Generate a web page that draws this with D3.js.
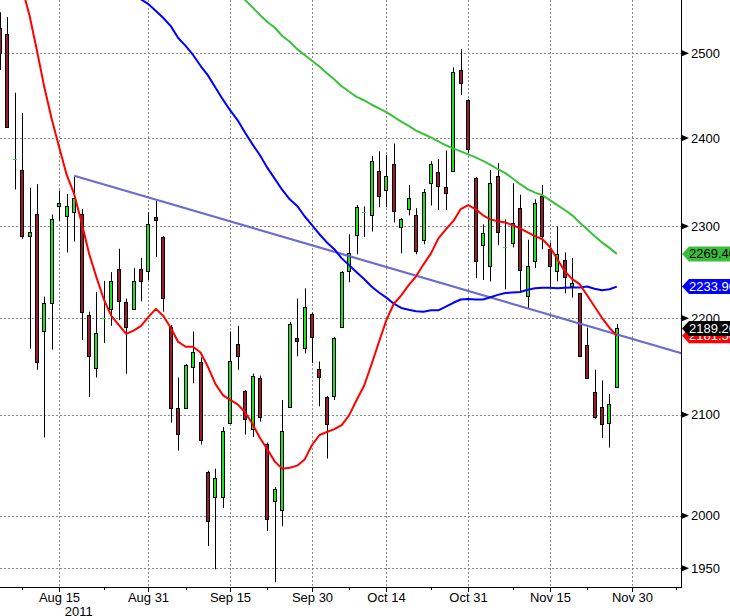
<!DOCTYPE html>
<html><head><meta charset="utf-8">
<script src="https://cdn.jsdelivr.net/npm/d3@7/dist/d3.min.js"></script>
<style>html,body{margin:0;padding:0;background:#fff;} svg{display:block;font-family:"Liberation Sans",Arial,sans-serif;}</style>
</head><body><svg id="c" width="730" height="616"></svg>
<script>
// ---- data (daily candles, weekdays from 2011-08-03 to 2011-11-28) ----
const startDate = "2011-08-03", endDate = "2011-11-28";
const open = [2531,2523,2374,2363,2289,2314,2186,2216,2322,2311,
  2315.5,2313,2203.5,2148,2198.8,2210,2253,2217,2210,2253,
  2250.5,2310,2288,2191,2107,2107,2149,2154.5,2043,2018,
  2018,2092,2173,2124,2085.5,2138,2071,2014.5,2005.5,2107.5,
  2179.5,2169,2204.5,2147,2118,2119,2191,2250.5,2290,2315,
  2312,2362,2340,2370,2299.5,2319,2312,2284.5,2348,2361,
  2344,2362,2480,2444,2354,2279,2256,2356,2276.3,2281,
  2320,2224,2261.5,2333.5,2274.5,2250.5,2262.5,2234,2226.5,2172,
  2123,2107.5,2091.5,2128.5];
const high = [2550,2544,2453,2429,2343,2347,2223,2313,2340,2336,
  2356,2319,2207,2228,2240,2249.5,2275,2221,2254,2265,
  2315.5,2328,2289,2193,2138,2152,2186,2159,2044,2046,
  2087.5,2186,2192,2125,2142,2140,2072,2028,2115,2196,
  2221,2232,2206,2154.5,2119,2180.5,2250.5,2291,2323.5,2322,
  2379,2384.5,2380,2393.5,2309,2346,2320,2341.5,2373,2375.5,
  2385.5,2483,2505,2445,2355,2302,2363,2371,2307.5,2348,
  2335,2285,2330,2346,2282,2299.5,2271,2265,2227,2190,
  2146,2135,2121,2194];
const low = [2480,2412,2341,2286,2168,2146,2077,2167,2306,2271,
  2283,2177,2118,2138,2174,2192,2198,2142,2209,2218,
  2241,2266,2207,2092,2064,2106,2132,2070,1971,1949,
  2007.5,2091,2146,2080,2077.5,2093,1985.5,1937,1990,2107,
  2160,2163,2153,2108.5,2056,2115,2190,2238.5,2269,2288,
  2294,2321,2321,2304,2270,2312,2269,2280,2323,2318,
  2318,2361,2450,2383,2243,2241,2239.5,2279,2231,2276.5,
  2228.5,2211,2254,2274.5,2232,2239.5,2226.5,2222,2159.5,2137.5,
  2096,2076.5,2067,2128];
const close = [2500,2413,2375.5,2289,2294,2154.5,2216,2308,2326,2323,
  2331,2207,2160,2184,2199.8,2240,2218,2191,2240,2240,
  2302,2306.5,2222,2107,2081,2151,2164,2075,1995,2037,
  2083.5,2155.5,2160,2096,2140,2098,1997,2026,2083.5,2194,
  2176.5,2212,2180.5,2139,2091,2179.5,2249.5,2270,2321.5,2316,
  2373,2333.5,2356,2316.5,2307.5,2331,2272.5,2338,2370,2345,
  2337,2477,2464,2387,2261.5,2292,2348,2293,2277.3,2303,
  2251.5,2256,2325.5,2289,2256,2269,2244,2237.5,2160.5,2138,
  2097.5,2090.5,2110.5,2189.2];
// moving averages
const maRed = [null,null,null,2580,2546,2503,2459,2421.5,2389,2357.5,
  2336,2304,2270,2244,2220,2202.5,2193,2183.5,2187,2192,
  2201.5,2210,2202.5,2190,2175,2170,2170,2164,2149,2131.5,
  2120,2115,2110.5,2102.5,2090.5,2076.5,2065,2053,2046,2047,
  2049,2055,2069.5,2079.5,2082.5,2085.5,2089.5,2099.5,2115,2129.5,
  2151.5,2175,2198,2215.5,2224.5,2235.5,2245,2258,2270,2286.5,
  2296.5,2305.5,2319,2323.5,2319,2312,2307.5,2305.5,2304,2301,
  2297.5,2293,2289,2285.5,2277,2263.5,2250.5,2242,2236.5,2224.5,
  2212.5,2200.5,2190,2181.5];
const maBlue = [null,null,null,null,null,null,null,null,null,null,
  null,null,null,null,null,null,null,null,2574,2566,
  2560,2551.5,2543,2533,2518.5,2509,2498,2485,2473.5,2459,
  2445,2432,2420.5,2406,2392.5,2380,2365.5,2353,2340.5,2330,
  2322.5,2311,2301,2291,2282,2274.5,2264.5,2257,2249.5,2242,
  2234,2227.5,2222,2215.5,2211,2209,2207.5,2207,2208.5,2208.5,
  2212.5,2216.5,2220,2220.5,2220,2220,2222.5,2225,2227,2227.5,
  2228,2230.5,2232,2232.5,2232.5,2232,2232.5,2233,2233,2234,
  2231.5,2230,2231,2233.9];
const maGreen = [null,null,null,null,null,null,null,null,null,null,
  null,null,null,null,null,null,null,null,null,null,
  null,null,null,null,null,null,null,null,null,null,
  null,null,2573.5,2565,2556,2546.5,2538,2531,2521,2514,
  2505,2498,2491,2484,2476,2468.5,2460.5,2454,2448,2444,
  2439,2434.5,2430,2424.5,2419,2414,2408.5,2404.5,2400.5,2396,
  2391.5,2388,2384.5,2381,2377.5,2373.5,2369,2364,2359.5,2353.5,
  2347,2341.5,2337.5,2334.5,2329,2323.5,2318,2312,2304,2296.5,
  2289,2282,2276,2269.4];
const trendDates = ["2011-08-17","2011-12-09"];
const trendValues = [2356.6, 2162.5];
const xTickDates = ["2011-08-15","2011-08-31","2011-09-15","2011-09-30","2011-10-14","2011-10-31","2011-11-15","2011-11-30"];
const xTickLabels = ["Aug 15","Aug 31","Sep 15","Sep 30","Oct 14","Oct 31","Nov 15","Nov 30"];
const xMinorDates = ["2011-08-08","2011-08-23","2011-09-07","2011-09-22","2011-10-07","2011-10-24","2011-11-08","2011-11-22","2011-12-08"];
const yearLabel = "2011";
const yTicks = [1950,2000,2100,2200,2300,2400,2500];
const tagLabels = ["2269.40","2233.90","2181.50","2189.20"];
const tagValues = [2269.4, 2233.9, 2181.5, 2189.2];
const tagFills = ["#3cbc3c","#0000ff","#ff0000","#000000"];
const tagText = ["#000","#fff","#fff","#fff"];

// ---- layout ----
const plotR = 681, plotB = 587;
const parse = d3.utcParse("%Y-%m-%d");
const isWeekday = d => d.getUTCDay() !== 0 && d.getUTCDay() !== 6;
const t0 = parse(startDate);
const dates = d3.utcDay.range(t0, d3.utcDay.offset(parse(endDate), 1)).filter(isWeekday);
const wIndex = s => d3.utcDay.range(t0, parse(s)).filter(isWeekday).length;

const x = d3.scaleLinear().domain([0, 85]).range([-0.2, 631.7]);
const y = d3.scaleLog().domain([1950, 2500]).range([568.3, 53.3]);

const svg = d3.select("#c");
svg.append("rect").attr("width", 730).attr("height", 616).attr("fill", "#fff");
svg.append("clipPath").attr("id", "clip").append("rect").attr("x", 0).attr("y", 0).attr("width", plotR).attr("height", plotB);

// grid
const grid = svg.append("g").attr("stroke", "#8a8a8a").attr("stroke-width", 1).attr("stroke-dasharray", "2,2");
yTicks.forEach(v => {
  const yy = Math.round(y(v)) + 0.5;
  grid.append("line").attr("x1", 0).attr("x2", plotR).attr("y1", yy).attr("y2", yy);
});
xTickDates.forEach(s => {
  const xx = Math.round(x(wIndex(s))) + 0.5;
  grid.append("line").attr("x1", xx).attr("x2", xx).attr("y1", 0).attr("y2", plotB);
});

const plot = svg.append("g").attr("clip-path", "url(#clip)");

// candles
const UP = "#1de41d", DOWN = "#9d1a2d";
dates.forEach((d, i) => {
  const cx = Math.round(x(i));
  const o = open[i], c = close[i], h = high[i], l = low[i];
  plot.append("line").attr("x1", cx + 0.5).attr("x2", cx + 0.5)
    .attr("y1", y(h)).attr("y2", y(l)).attr("stroke", "#000").attr("stroke-width", 1);
  const yo = y(o), yc = y(c);
  if (Math.abs(yo - yc) < 1.6) {
    plot.append("rect").attr("x", cx - 2).attr("y", Math.round(yc)).attr("width", 4).attr("height", 1)
      .attr("fill", c >= o ? UP : DOWN);
  } else {
    const top = Math.round(Math.min(yo, yc)) + 0.5, bot = Math.round(Math.max(yo, yc)) + 0.5;
    plot.append("rect").attr("x", cx - 1.5).attr("y", top).attr("width", 3).attr("height", bot - top)
      .attr("fill", c >= o ? UP : DOWN).attr("stroke", "#000").attr("stroke-width", 1);
  }
});

// trendline
const tp = trendDates.map((s, k) => [x(wIndex(s)), y(trendValues[k])]);
plot.append("line").attr("x1", tp[0][0]).attr("y1", tp[0][1]).attr("x2", tp[1][0]).attr("y2", tp[1][1])
  .attr("stroke", "#6464cc").attr("stroke-width", 2.2).attr("stroke-opacity", 0.95);

// moving averages
const line = d3.line().defined(d => d != null).x((d, i) => x(i)).y(d => y(d));
[[maGreen, "#3cc03c"], [maBlue, "#0000ff"], [maRed, "#ff0000"]].forEach(([arr, col]) => {
  plot.append("path").attr("d", line(arr)).attr("fill", "none").attr("stroke", col)
    .attr("stroke-width", 2).attr("stroke-linejoin", "round");
});

// axes lines
svg.append("line").attr("x1", plotR + 0.5).attr("x2", plotR + 0.5).attr("y1", 0).attr("y2", plotB + 1).attr("stroke", "#000");
svg.append("line").attr("x1", 0).attr("x2", plotR + 1).attr("y1", plotB + 0.5).attr("y2", plotB + 0.5).attr("stroke", "#000");

// x ticks and labels
xTickDates.forEach((s, k) => {
  const xx = Math.round(x(wIndex(s))) + 0.5;
  svg.append("line").attr("x1", xx).attr("x2", xx).attr("y1", plotB).attr("y2", plotB + 5).attr("stroke", "#000");
  svg.append("text").attr("x", xx).attr("y", 602).attr("text-anchor", "middle")
    .attr("font-size", 13).attr("fill", "#000").text(xTickLabels[k]);
});
xMinorDates.forEach(s => {
  const xx = Math.round(x(wIndex(s))) + 0.5;
  if (xx > plotR) return;
  svg.append("line").attr("x1", xx).attr("x2", xx).attr("y1", plotB).attr("y2", plotB + 3).attr("stroke", "#000");
});
svg.append("text").attr("x", x(wIndex(xTickDates[0])) + 19.5).attr("y", 616).attr("text-anchor", "middle")
  .attr("font-size", 13).attr("fill", "#000").text(yearLabel);

// y ticks and labels
yTicks.forEach(v => {
  const yy = y(v);
  svg.append("path").attr("d", `M${plotR + 1},${yy - 3}L${plotR + 8},${yy}L${plotR + 1},${yy + 3}Z`).attr("fill", "#000");
  svg.append("text").attr("x", plotR + 10).attr("y", yy + 4.6).attr("font-size", 13).attr("fill", "#000").text(d3.format("d")(v));
});

// value tags
tagValues.forEach((v, k) => {
  const yc = y(v);
  svg.append("path").attr("d", `M${plotR + 1},${yc}L${plotR + 8},${yc - 7.5}L740,${yc - 7.5}L740,${yc + 7.5}L${plotR + 8},${yc + 7.5}Z`)
    .attr("fill", tagFills[k]);
  svg.append("text").attr("x", plotR + 8).attr("y", yc + 4.6).attr("font-size", 13)
    .attr("fill", tagText[k]).text(tagLabels[k]);
});
</script></body></html>
